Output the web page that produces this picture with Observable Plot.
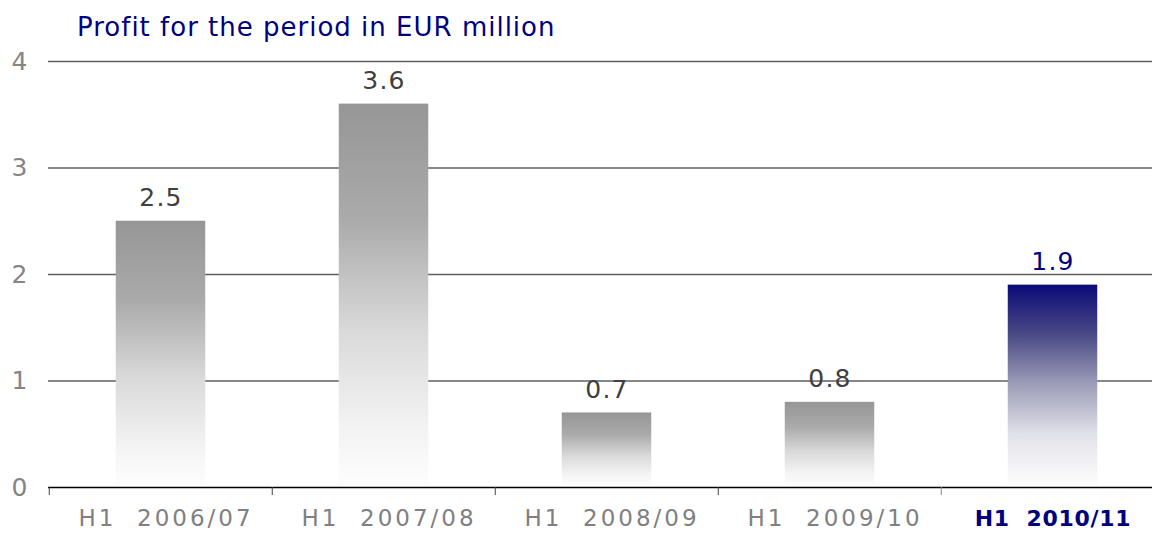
<!DOCTYPE html>
<html>
<head>
<meta charset="utf-8">
<script src="https://cdn.jsdelivr.net/npm/d3@7"></script>
<script src="https://cdn.jsdelivr.net/npm/@observablehq/plot@0.6"></script>
<style>
  html, body { margin: 0; padding: 0; background: #fff; }
  #title { height: 45px; box-sizing: border-box; padding: 13.7px 0 0 77px; font-family: "DejaVu Sans", sans-serif; font-size: 26px; line-height: 26px; letter-spacing: 1px; color: #000080; white-space: nowrap; }
  #chart svg { display: block; }
</style>
</head>
<body>
<div id="title">Profit for the period in EUR million</div>
<div id="chart"></div>
<script>
const categories = ["H1  2006/07", "H1  2007/08", "H1  2008/09", "H1  2009/10", "H1  2010/11"];
const profit = [2.5, 3.6, 0.7, 0.8, 1.9];
const highlighted = [false, false, false, false, true];
const yTicks = [0, 1, 2, 3, 4];
const valueLabels = ["2.5", "3.6", "0.7", "0.8", "1.9"];

const data = categories.map((c, i) => ({cat: c, value: profit[i], hl: highlighted[i], label: valueLabels[i]}));

const W = 1152, H = 490;
const bandStart = 48, bandEnd = 1165.5;
const bandW = (bandEnd - bandStart) / categories.length;
const barW = 90;
const inset = (bandW - barW) / 2;

const svg = Plot.plot({
  width: W,
  height: H,
  marginLeft: 48,
  marginRight: 0,
  marginTop: 16,
  marginBottom: 48,
  style: {fontFamily: "DejaVu Sans, sans-serif", background: "#fff", overflow: "visible"},
  x: {domain: categories, range: [bandStart, bandEnd], padding: 0, axis: null},
  y: {domain: [0, 4], axis: null},
  color: {type: "identity"},
  marks: [
    Plot.ruleY(yTicks.filter(d => d > 0), {stroke: "#5f5f5f", strokeWidth: 1.3}),
    Plot.barY(data, {x: "cat", y: "value", fill: d => d.hl ? "url(#gradNavy)" : "url(#gradGray)", insetLeft: inset, insetRight: inset, insetBottom: 2}),
    Plot.ruleY([0], {stroke: "#000", strokeWidth: 1.3}),
    Plot.ruleX(categories, {x: d => d, y1: 0, y2: 0, dx: -bandW / 2, insetBottom: -8, stroke: d => d === categories[4] ? "#888" : "#444"}),
    Plot.axisY({ticks: yTicks, label: null, tickSize: 0, tickPadding: 21, fontSize: 25, fill: "#858585", tickFormat: d => String(d)}),
    Plot.text(data, {x: "cat", y: "value", text: "label", dy: -23, dx: 0, fontSize: 25, fill: d => d.hl ? "#000080" : "#404040"}),
    Plot.text(data.filter(d => !d.hl), {x: "cat", frameAnchor: "bottom", text: "cat", dy: 38, dx: 5, fontSize: 23, fill: "#808080"}),
    Plot.text(data.filter(d => d.hl), {x: "cat", frameAnchor: "bottom", text: "cat", dy: 38, dx: 0, fontSize: 22, fill: "#000080", fontWeight: "bold"})
  ]
});

const s = d3.select(svg);
const textGroups = s.selectAll("g[aria-label='text']").nodes();
if (textGroups.length >= 3) {
  d3.select(textGroups[0]).style("letter-spacing", "1.2px");
  d3.select(textGroups[1]).style("letter-spacing", "3px").style("white-space", "pre");
  d3.select(textGroups[2]).style("letter-spacing", "0.7px").style("white-space", "pre");
}

const defs = s.insert("defs", ":first-child");
const g1 = defs.append("linearGradient").attr("id", "gradGray").attr("x1", 0).attr("y1", 0).attr("x2", 0).attr("y2", 1);
[[0, "#969696"], [0.3, "#aaaaaa"], [0.6, "#dadada"], [0.85, "#f3f3f3"], [1, "#fdfdfd"]].forEach(([o, c]) => g1.append("stop").attr("offset", o).attr("stop-color", c));
const g2 = defs.append("linearGradient").attr("id", "gradNavy").attr("x1", 0).attr("y1", 0).attr("x2", 0).attr("y2", 1);
[[0, "#0a0a78"], [0.25, "#4a4a86"], [0.5, "#9e9eba"], [0.75, "#e2e2ea"], [1, "#fdfdfd"]].forEach(([o, c]) => g2.append("stop").attr("offset", o).attr("stop-color", c));

document.getElementById("chart").appendChild(svg);
</script>
</body>
</html>
